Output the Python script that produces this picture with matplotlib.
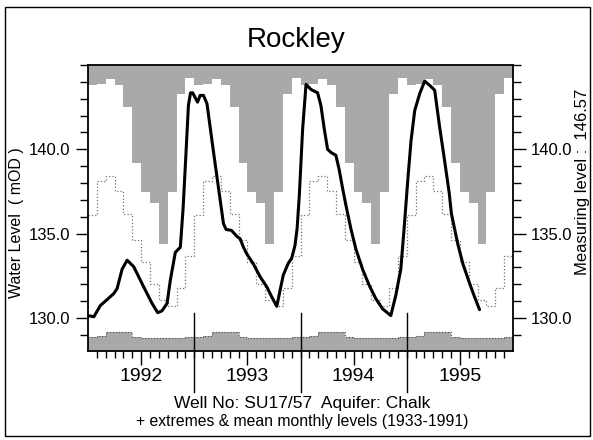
import numpy as np
import matplotlib
matplotlib.use('Agg')
import matplotlib.pyplot as plt
from matplotlib.patches import Rectangle

plt.rcParams['font.family'] = ['Liberation Sans', 'DejaVu Sans']

# monthly extremes & means 1933-1991 (Jan..Dec), mOD
max_mens = [143.8, 143.85, 144.15, 143.8, 142.5, 139.2, 137.45, 136.8, 134.4, 137.45, 143.3, 144.2]
media_mens = [136.1, 138.1, 138.4, 137.55, 136.15, 134.6, 133.3, 132.0, 131.1, 130.7, 131.8, 133.7]
min_mens = [128.9, 128.95, 129.2, 129.2, 129.15, 128.88, 128.85, 128.85, 128.85, 128.85, 128.85, 128.88]
anos = [1992, 1993, 1994, 1995]

# observed water level (decimal year, mOD)
t_obs = [1992.0, 1992.055, 1992.117, 1992.18, 1992.242, 1992.274, 1992.321, 1992.368, 1992.43,
         1992.524, 1992.603, 1992.656, 1992.696, 1992.744, 1992.775, 1992.822, 1992.869, 1992.895,
         1992.92, 1992.945, 1992.965, 1992.985, 1993.031, 1993.056, 1993.087, 1993.12, 1993.15,
         1993.18, 1993.213, 1993.244, 1993.275, 1993.30, 1993.35, 1993.40, 1993.432, 1993.463,
         1993.495, 1993.557, 1993.62, 1993.683, 1993.73, 1993.777, 1993.808, 1993.838, 1993.885,
         1993.917, 1993.948, 1993.968, 1993.989, 1994.02, 1994.052, 1994.099, 1994.161, 1994.192,
         1994.224, 1994.255, 1994.29, 1994.333, 1994.364, 1994.396, 1994.427, 1994.474, 1994.521,
         1994.584, 1994.646, 1994.709, 1994.772, 1994.85, 1994.897, 1994.944, 1994.975, 1995.012,
         1995.04, 1995.075, 1995.122, 1995.169, 1995.232, 1995.263, 1995.31, 1995.357, 1995.40,
         1995.42, 1995.45, 1995.48, 1995.529, 1995.592, 1995.638, 1995.685]
nivel_obs = [130.15, 130.08, 130.75, 131.1, 131.45, 131.75, 132.9, 133.43, 133.05,
             131.85, 130.87, 130.32, 130.43, 130.87, 132.25, 133.9, 134.2, 136.5,
             139.5, 142.6, 143.35, 143.35, 142.8, 143.2, 143.2, 142.7, 141.3,
             139.9, 138.4, 137.0, 135.6, 135.25, 135.2, 134.85, 134.7, 134.2,
             133.8, 133.2, 132.45, 131.85, 131.25, 130.7, 131.65, 132.55, 133.25,
             133.55, 134.3, 135.3, 137.3, 141.2, 143.85, 143.55, 143.35, 142.6,
             141.2, 140.0, 139.8, 139.65, 138.8, 137.7, 136.7, 135.3, 134.1,
             132.9, 131.95, 131.15, 130.55, 130.15, 131.35, 132.9, 135.3, 138.36,
             140.5, 142.3, 143.3, 144.05, 143.7, 143.5, 141.3, 139.3, 137.4,
             136.2, 135.3, 134.4, 133.2, 132.05, 131.26, 130.5]

Y0, Y1 = 128.05, 145.0

fig = plt.figure(figsize=(5.93, 4.4), dpi=100)
ax = fig.add_axes([88/593, 1-351/440, 425/593, 286/440])

# monthly steps over the plotted years
bordas = anos[0] + np.arange(12*len(anos)+1)/12.0
vmax = np.tile(max_mens, len(anos)); vmax = np.r_[vmax, vmax[-1]]
vmed = np.tile(media_mens, len(anos)); vmed = np.r_[vmed, vmed[-1]]
vmin = np.tile(min_mens, len(anos)); vmin = np.r_[vmin, vmin[-1]]

cinza = '#a9a9a9'
ax.fill_between(bordas, vmax, Y1, step='post', color=cinza, lw=0)
ax.fill_between(bordas, Y0, vmin, step='post', color=cinza, lw=0)
ax.step(bordas, vmin, where='post', ls=':', color='0.3', lw=0.8)
ax.step(bordas, vmed, where='post', ls=':', color='0.45', lw=0.9)

ax.plot(t_obs, nivel_obs, color='black', lw=2.2, solid_capstyle='round')

for a in anos[1:]:
    ax.axvline(a, ymin=-0.143, ymax=0.133, color='black', lw=1.0, clip_on=False)

ax.set_xlim(anos[0], anos[-1] + 1)
ax.set_ylim(Y0, Y1)

ax.set_xticks([a + 0.5 for a in anos])
ax.set_xticklabels([str(a) for a in anos], fontsize=14)
ax.set_xticks(bordas[1:-1], minor=True)
ax.tick_params(axis='x', which='major', direction='out', length=10, width=1, pad=2)
ax.tick_params(axis='x', which='minor', direction='out', length=5, width=1)

ax.set_yticks([130, 135, 140])
ax.set_yticklabels(['130.0', '135.0', '140.0'], fontsize=12)
ax.set_yticks(np.arange(129, 146), minor=True)
ax.tick_params(axis='y', which='both', direction='out', left=True, right=True,
               labelleft=True, labelright=True, width=1)
ax.tick_params(axis='y', which='major', length=9, pad=4)
ax.tick_params(axis='y', which='minor', length=6)

for s in ax.spines.values():
    s.set_linewidth(1.3)

fig.text(17/593, 1-223/440, 'Water Level  ( mOD )', rotation=90,
         ha='center', va='center', fontsize=11.5)
fig.text(582/593, 1-182/440, 'Measuring level :  146.57', rotation=90,
         ha='center', va='center', fontsize=12)

fig.text(0.5, 1-40/440, 'Rockley', ha='center', va='center', fontsize=20)
fig.text(302/593, 1-403/440, 'Well No: SU17/57  Aquifer: Chalk', ha='center', va='center', fontsize=12.5)
fig.text(302/593, 1-421/440, '+ extremes & mean monthly levels (1933-1991)', ha='center',
         va='center', fontsize=11.3)

fig.patches.append(Rectangle((5/593, 4/440), 585/593, 429/440, transform=fig.transFigure,
                             fill=False, edgecolor='black', lw=1.0))

fig.savefig('out.png', dpi=100)
